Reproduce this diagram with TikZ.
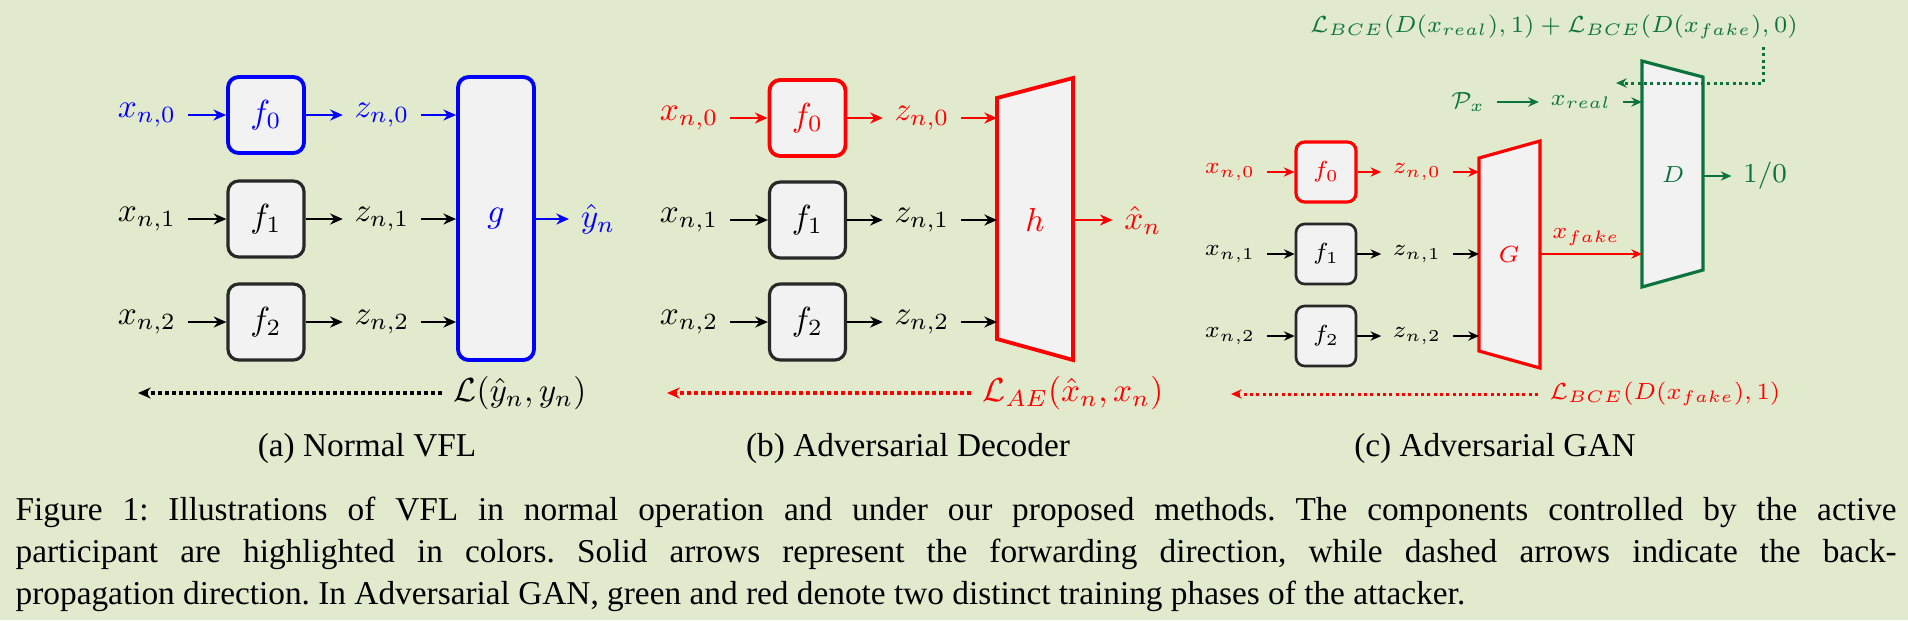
\RequirePackage{fix-cm}
\documentclass[tikz,border=0pt]{standalone}
\usepackage[no-math]{fontspec}
\setmainfont{Liberation Serif}
\usetikzlibrary{arrows.meta,calc}
\definecolor{bg}{RGB}{226,234,206}
\definecolor{gfill}{RGB}{242,242,242}
\definecolor{ggreen}{RGB}{12,115,62}
\definecolor{bord}{RGB}{40,40,40}
\frenchspacing
\begin{document}
\begin{tikzpicture}[x=0.3pt,y=-0.3pt,
  >={Stealth[length=3.8pt,width=3.3pt]},
  fbox/.style={draw=bord, fill=gfill, rounded corners=3.2pt, line width=0.95pt, minimum size=22.8pt, inner sep=0pt},
  sbox/.style={draw=bord, fill=gfill, rounded corners=2.6pt, line width=0.8pt, minimum size=18pt, inner sep=0pt},
  arr/.style={->, line width=0.85pt},
  sarr/.style={->, line width=0.7pt, >={Stealth[length=3.2pt,width=2.8pt]}},
  back/.style={->, densely dotted, line width=1.1pt},
  sback/.style={->, densely dotted, line width=0.9pt, >={Stealth[length=3.2pt,width=2.8pt]}},
  bigf/.style={font=\fontsize{10}{12}\selectfont},
  smallf/.style={font=\fontsize{7}{8.5}\selectfont},
  capf/.style={font=\fontsize{10}{12.6}\selectfont},
]
\fill[bg] (0,0) rectangle (1908,620);
\useasboundingbox (0,0) rectangle (1908,620);

% ---------------- (a) Normal VFL ----------------
\begin{scope}[bigf]
\node[blue] (xa0) at (147,115) {$x_{n,0}$};
\node (xa1) at (147,219) {$x_{n,1}$};
\node (xa2) at (147,322) {$x_{n,2}$};
\node[fbox, draw=blue, line width=1.15pt, text=blue] (fa0) at (266,115) {$f_0$};
\node[fbox] (fa1) at (266,219) {$f_1$};
\node[fbox] (fa2) at (266,322) {$f_2$};
\node[blue] (za0) at (382,115) {$z_{n,0}$};
\node (za1) at (382,219) {$z_{n,1}$};
\node (za2) at (382,322) {$z_{n,2}$};
\node[fbox, draw=blue, line width=1.15pt, minimum width=22.8pt, minimum height=84.9pt] (g) at (496,218.5) {\color{blue}$g$};
\node[blue] (ya) at (598,219) {$\hat y_n$};
\draw[arr,blue] (xa0) -- (fa0);
\draw[arr] (xa1) -- (fa1);
\draw[arr] (xa2) -- (fa2);
\draw[arr,blue] (fa0) -- (za0);
\draw[arr] (fa1) -- (za1);
\draw[arr] (fa2) -- (za2);
\draw[arr,blue] (za0) -- (za0 -| g.west);
\draw[arr] (za1) -- (za1 -| g.west);
\draw[arr] (za2) -- (za2 -| g.west);
\draw[arr,blue] (g.east |- ya) -- (ya);
\node (La) at (520,393) {$\mathcal{L}(\hat y_n, y_n)$};
\coordinate (La-end) at (138,393);
\draw[back] (La) -- (La-end);
\end{scope}
\node[capf, anchor=base] (capa) at (367,456) {(a) Normal VFL};

% ---------------- (b) Adversarial Decoder ----------------
\begin{scope}[bigf]
\node[red] (xb0) at (689,118) {$x_{n,0}$};
\node (xb1) at (689,220) {$x_{n,1}$};
\node (xb2) at (689,322) {$x_{n,2}$};
\node[fbox, draw=red, line width=1.15pt, text=red] (fb0) at (807.5,118) {$f_0$};
\node[fbox] (fb1) at (807.5,220) {$f_1$};
\node[fbox] (fb2) at (807.5,322) {$f_2$};
\node[red] (zb0) at (922,118) {$z_{n,0}$};
\node (zb1) at (922,220) {$z_{n,1}$};
\node (zb2) at (922,322) {$z_{n,2}$};
\coordinate (hLT) at (997,98);
\coordinate (hLB) at (997,339);
\coordinate (hRT) at (1073,78);
\coordinate (hRB) at (1073,360);
\draw[red, fill=gfill, line width=1.15pt] (hLT) -- (hRT) -- (hRB) -- (hLB) -- cycle;
\node[red] (h) at (1035,220) {$h$};
\node[red] (xhb) at (1143,220) {$\hat x_n$};
\draw[arr,red] (xb0) -- (fb0);
\draw[arr] (xb1) -- (fb1);
\draw[arr] (xb2) -- (fb2);
\draw[arr,red] (fb0) -- (zb0);
\draw[arr] (fb1) -- (zb1);
\draw[arr] (fb2) -- (zb2);
\draw[arr,red] (zb0) -- (zb0 -| hLT);
\draw[arr] (zb1) -- (zb1 -| hLT);
\draw[arr] (zb2) -- (zb2 -| hLT);
\draw[arr,red] (hRT |- xhb) -- (xhb);
\node[red] (Lb) at (1073,393) {$\mathcal{L}_{AE}(\hat x_n, x_n)$};
\coordinate (Lb-end) at (667,393);
\draw[back,red] (Lb) -- (Lb-end);
\end{scope}
\node[capf, anchor=base] (capb) at (908,456) {(b) Adversarial Decoder};

% ---------------- (c) Adversarial GAN ----------------
\begin{scope}[smallf]
\node[red] (xc0) at (1230,172) {$x_{n,0}$};
\node (xc1) at (1230,254) {$x_{n,1}$};
\node (xc2) at (1230,336) {$x_{n,2}$};
\node[sbox, draw=red, line width=0.95pt, text=red] (fc0) at (1326,172) {$f_0$};
\node[sbox] (fc1) at (1326,254) {$f_1$};
\node[sbox] (fc2) at (1326,336) {$f_2$};
\node[red] (zc0) at (1417,172) {$z_{n,0}$};
\node (zc1) at (1417,254) {$z_{n,1}$};
\node (zc2) at (1417,336) {$z_{n,2}$};
% G
\coordinate (GLT) at (1479,158);
\coordinate (GLB) at (1479,351);
\coordinate (GRT) at (1540,141);
\coordinate (GRB) at (1540,368);
\draw[red, fill=gfill, line width=0.95pt] (GLT) -- (GRT) -- (GRB) -- (GLB) -- cycle;
\node[red] (G) at (1509,255) {$G$};
% D
\coordinate (DLT) at (1642,61);
\coordinate (DLB) at (1642,287);
\coordinate (DRT) at (1703,77);
\coordinate (DRB) at (1703,270);
\draw[ggreen, fill=gfill, line width=0.95pt] (DLT) -- (DRT) -- (DRB) -- (DLB) -- cycle;
\node[ggreen] (D) at (1673,175) {$D$};
\node[ggreen, font=\fontsize{8.2}{10}\selectfont] (out) at (1765,176) {$1/0$};
\draw[sarr,ggreen] (DRT |- out) -- (out);
% inputs
\draw[sarr,red] (xc0) -- (fc0);
\draw[sarr] (xc1) -- (fc1);
\draw[sarr] (xc2) -- (fc2);
\draw[sarr,red] (fc0) -- (zc0);
\draw[sarr] (fc1) -- (zc1);
\draw[sarr] (fc2) -- (zc2);
\draw[sarr,red] (zc0) -- (zc0 -| GLT);
\draw[sarr] (zc1) -- (zc1 -| GLT);
\draw[sarr] (zc2) -- (zc2 -| GLT);
% x_fake
\coordinate (gfs) at (1540,254);
\draw[sarr,red] (gfs) -- (gfs -| DLT);
\node[red] (xf) at (1586,237) {$x_{fake}$};
% real
\node[ggreen] (Px) at (1468,102) {$\mathcal{P}_x$};
\node[ggreen] (xr) at (1581,102) {$x_{real}$};
\draw[sarr,ggreen] (Px) -- (xr);
\draw[sarr,ggreen] (xr) -- (xr -| DLT);
% green loss
\node[ggreen] (Lg) at (1554,27) {$\mathcal{L}_{BCE}(D(x_{real}),1)+\mathcal{L}_{BCE}(D(x_{fake}),0)$};
\coordinate (gdc) at (1763,83);
\coordinate (gde) at (1616,83);
\draw[sback,ggreen] (gdc |- 0,47) -- (gdc) -- (gde);
% red loss
\node[red] (Lr) at (1665,394) {$\mathcal{L}_{BCE}(D(x_{fake}),1)$};
\coordinate (Lr-end) at (1231,394);
\draw[sback,red] (Lr) -- (Lr-end);
\end{scope}
\node[capf, anchor=base] (capc) at (1495,456) {(c) Adversarial GAN};

% ---------------- main caption ----------------
\node[capf, anchor=base west, inner sep=0pt] (cap1) at (15,520) {\makebox[564.3pt][s]{Figure 1: Illustrations of VFL in normal operation and under our proposed methods. The components controlled by the active}};
\node[capf, anchor=base west, inner sep=0pt] (cap2) at (15,562) {\makebox[564.3pt][s]{participant are highlighted in colors. Solid arrows represent the forwarding direction, while dashed arrows indicate the back-}};
\node[capf, anchor=base west, inner sep=0pt] (cap3) at (15,604) {propagation direction. In Adversarial GAN, green and red denote two distinct training phases of the attacker.};
\end{tikzpicture}
\end{document}
